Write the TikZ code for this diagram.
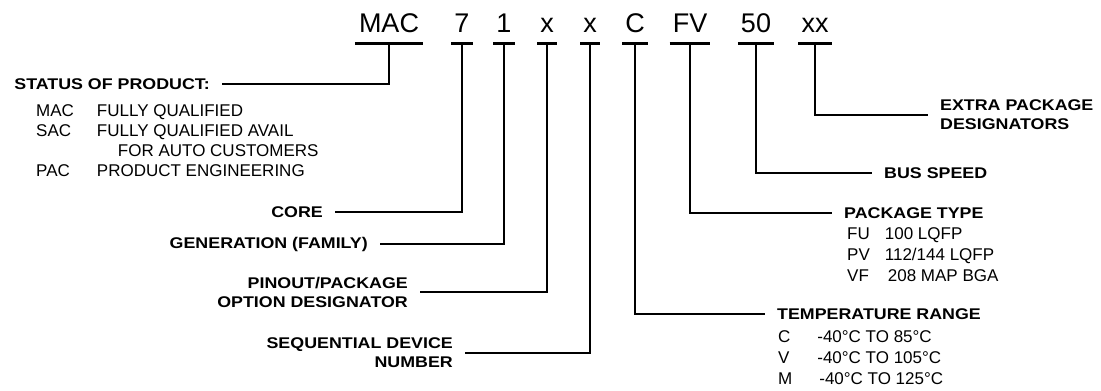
\documentclass[tikz,border=0pt]{standalone}
\usepackage{fontspec}
\setmainfont{Liberation Sans}
\newfontfamily\headfont[FakeStretch=1.15]{Liberation Sans}
\usepackage{tikz}

\tikzset{
    part/.style={font=\fontsize{27}{27}\selectfont, inner xsep=3pt, inner ysep=11pt, text depth=0pt, anchor=base},
    head/.style={font=\headfont\bfseries\fontsize{15.5}{19}\selectfont, inner xsep=12pt, inner ysep=2pt},
    item/.style={font=\fontsize{17}{21}\selectfont, inner sep=0pt, anchor=base west},
    bar/.style={line width=2.6pt},
    wire/.style={line width=2.6pt}
}

\begin{document}
\begin{tikzpicture}[x=1pt, y=-1pt]
    \useasboundingbox (0,0) rectangle (1101,391);

    % ordering code
    \node (mac) [part, inner xsep=4pt] at (389,32) {MAC};
    \node (core) [part] at (462,32) {7};
    \node (gen) [part] at (504,32) {1};
    \node (pin) [part] at (547,32) {x};
    \node (seq) [part] at (590,32) {x};
    \node (temp) [part] at (635,32) {C};
    \node (pkg) [part] at (690,32) {FV};
    \node (bus) [part] at (756,32) {50};
    \node (extra) [part] at (815,32) {xx};

    \draw [bar] (mac.south west) -- (mac.south east);
    \draw [bar] (core.south west) -- (core.south east);
    \draw [bar] (gen.south west) -- (gen.south east);
    \draw [bar] (pin.south west) -- (pin.south east);
    \draw [bar] (seq.south west) -- (seq.south east);
    \draw [bar] (temp.south west) -- (temp.south east);
    \draw [bar] (pkg.south west) -- (pkg.south east);
    \draw [bar] (bus.south west) -- (bus.south east);
    \draw [bar] (extra.south west) -- (extra.south east);

    % field names, left side
    \node (status) [head, anchor=east] at (222,84) {STATUS OF PRODUCT:};
    \node (corelbl) [head, anchor=east] at (335,212) {CORE};
    \node (genlbl) [head, anchor=east] at (380,244) {GENERATION (FAMILY)};
    \node (pinlbl) [head, anchor=east, align=right] at (420,292) {PINOUT/PACKAGE\\OPTION DESIGNATOR};
    \node (seqlbl) [head, anchor=east, align=right] at (465,353) {SEQUENTIAL DEVICE\\NUMBER};

    % field names, right side
    \node (templbl) [head, anchor=west] at (765,314) {TEMPERATURE RANGE};
    \node (pkglbl) [head, anchor=west] at (832,213) {PACKAGE TYPE};
    \node (buslbl) [head, anchor=west] at (872,173) {BUS SPEED};
    \node (extralbl) [head, anchor=west, align=left] at (928,115) {EXTRA PACKAGE\\DESIGNATORS};

    % option lists
    \node (statuslist) [item, font=\fontsize{17}{20}\selectfont] at (36,116) {\begin{tabular}[t]{@{}l@{\hspace{23pt}}l@{}}
        MAC & FULLY QUALIFIED \\
        SAC & FULLY QUALIFIED AVAIL \\
            & \hspace{21pt}FOR AUTO CUSTOMERS \\
        PAC & PRODUCT ENGINEERING
    \end{tabular}};
    \node (pkglist) [item] at (847,239) {\begin{tabular}[t]{@{}l@{\hspace{15pt}}l@{}}
        FU & 100 LQFP \\
        PV & 112/144 LQFP \\
        VF & \hspace{3pt}208 MAP BGA
    \end{tabular}};
    \node (templist) [item] at (778,342) {\begin{tabular}[t]{@{}l@{\hspace{25pt}}l@{}}
        C & -40°C TO 85°C \\
        V & -40°C TO 105°C \\
        M & \hspace{2pt}-40°C TO 125°C
    \end{tabular}};

    % connectors
    \draw [wire] (mac.south) |- (status.east);
    \draw [wire] (core.south) |- (corelbl.east);
    \draw [wire] (gen.south) |- (genlbl.east);
    \draw [wire] (pin.south) |- (pinlbl.east);
    \draw [wire] (seq.south) |- (seqlbl.east);
    \draw [wire] (temp.south) |- (templbl.west);
    \draw [wire] (pkg.south) |- (pkglbl.west);
    \draw [wire] (bus.south) |- (buslbl.west);
    \draw [wire] (extra.south) |- (extralbl.west);
\end{tikzpicture}
\end{document}
